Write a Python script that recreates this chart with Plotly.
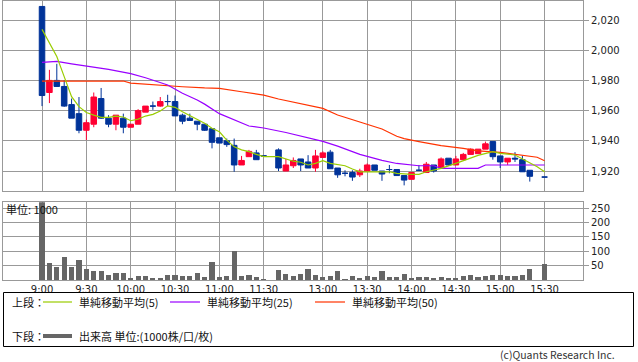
import plotly.graph_objects as go

# ---------------- data ----------------
def hm(m):
    return f"{m // 60}:{m % 60:02d}"

# category slots of the time axis (morning 9:00-11:30, lunch separator, afternoon 12:30-15:30)
axis_cats = [hm(540 + 5 * k) for k in range(31)] + ["昼"] + [hm(750 + 5 * k) for k in range(37)]
# bars actually traded (15:25 has no bar)
bar_times = [t for t in axis_cats if t not in ("昼", "15:25")]

opens = [2029, 1972, 1980, 1976, 1964, 1958, 1947, 1951, 1968, 1955,
         1951, 1955, 1949, 1951, 1959, 1963, 1963, 1966, 1966, 1957,
         1955, 1953, 1951, 1948, 1942, 1940, 1937, 1924, 1929.5, 1932,
         1930,
         1934, 1920, 1923.5, 1928, 1926, 1922, 1929, 1932.5, 1922, 1918.5,
         1919, 1917.5, 1920, 1924, 1920, 1921, 1921, 1917, 1914.5, 1920.5,
         1919, 1924, 1922, 1928.5, 1924, 1927.5, 1931, 1931.5, 1934.5, 1939.5,
         1930, 1926, 1928.5, 1927.5, 1920.5,
         1916]
highs = [2029, 1987, 1991, 1980, 1968, 1969, 1954, 1972, 1975, 1957,
         1957, 1958, 1951, 1961, 1963, 1966, 1969, 1970.5, 1970, 1958,
         1958, 1953, 1951, 1948, 1942, 1941.5, 1941.5, 1930, 1934, 1934,
         1930,
         1935, 1928, 1929, 1928, 1930.5, 1934, 1933, 1934, 1922, 1920.5,
         1920.5, 1921.5, 1925, 1924, 1920, 1924, 1921, 1917, 1919.5, 1924,
         1926, 1924, 1929, 1928.5, 1930, 1932, 1935, 1934.5, 1939.5, 1939.5,
         1930, 1928.5, 1932.5, 1930, 1920.5,
         1916]
lows = [1963, 1965, 1976, 1962.5, 1955, 1945, 1940.5, 1949, 1954.5, 1949,
        1947, 1945, 1949, 1951, 1959, 1960.5, 1962.5, 1963, 1956.5, 1951,
        1953.5, 1947, 1946.5, 1935, 1938.5, 1936, 1919.5, 1924, 1929.5, 1927.5,
        1930,
        1920, 1920, 1922, 1920, 1922, 1919.5, 1929, 1921.5, 1915.5, 1916.5,
        1913.5, 1916, 1920, 1920.5, 1913.5, 1918.5, 1917, 1910.5, 1914.5, 1920,
        1919, 1919, 1922, 1923.5, 1924, 1927.5, 1931, 1931.5, 1934.5, 1927.5,
        1922, 1924, 1926, 1919.5, 1913,
        1916]
closes = [1970, 1980, 1976, 1963, 1955, 1947, 1952, 1969, 1955, 1951,
          1957, 1949, 1951, 1960, 1963, 1963, 1966, 1966, 1956.5, 1953,
          1953.5, 1951, 1947, 1939, 1938.5, 1937.5, 1924, 1927, 1933, 1927.5,
          1930,
          1922, 1924, 1927, 1924, 1922, 1930, 1932, 1921.5, 1917.5, 1918.5,
          1916, 1920, 1924, 1920.5, 1918, 1921, 1917, 1914, 1919, 1920.5,
          1924.5, 1920, 1928, 1924, 1928, 1931, 1934.5, 1934.5, 1938, 1929.5,
          1926, 1928.5, 1928, 1919.5, 1916.5,
          1916]
volumes = [275, 59, 43, 78, 43, 70, 38, 29, 29, 15,
           24, 24, 5, 12, 12, 7, 7, 15, 17, 12,
           12, 24, 8, 63, 8, 12, 101, 12, 15, 8,
           2,
           33, 21, 12, 21, 38, 17, 8, 14, 31, 1,
           12, 5, 12, 9, 29, 8, 8, 21, 5, 8,
           10, 5, 8, 7, 5, 12, 15, 9, 12, 17,
           17, 12, 12, 17, 38,
           56]

# moving averages (slot index on the time axis, value)
ma5_slots = [0, 1, 2, 3, 4, 5, 6, 7, 8, 9, 10, 11, 12, 13, 14, 15, 16, 17, 18, 19,
             20, 21, 22, 23, 24, 25, 26, 27, 28, 29, 30, 32, 34, 35, 36, 37, 38, 39,
             41, 42, 43, 47, 48, 50, 51, 52, 54, 56, 57, 59, 61, 62, 64, 66, 67, 68]
ma5_vals = [2013.8, 2004.6, 1995.8, 1982.5, 1969.2, 1962.6, 1958.8, 1957, 1955.5, 1955.5,
            1956.4, 1955.8, 1953.3, 1954.4, 1956.4, 1957.5, 1959.7, 1963.2, 1962.2, 1959.3,
            1956.6, 1954.2, 1951.6, 1948.3, 1946, 1940.5, 1936, 1934, 1932.8, 1931,
            1929.5, 1929.5, 1926.5, 1925.8, 1924, 1925.1, 1926.8, 1925.1,
            1923.5, 1921.3, 1919.5, 1919.5, 1918.5, 1917.8, 1917.8, 1919.5, 1921.8,
            1925.1, 1927, 1930.4, 1932.8, 1931.7, 1930.6, 1925.5, 1922.8, 1919.5]
ma25_slots = [0, 2, 4, 6, 9, 12, 14, 17, 19, 21, 22, 24, 27, 28, 30, 33, 38, 40,
              43, 46, 48, 51, 53, 54, 59, 60, 68]
ma25_vals = [1992, 1992.6, 1991, 1989.5, 1987.3, 1984.5, 1981.8, 1977, 1971.5, 1967,
             1964.3, 1958, 1951.6, 1949.8, 1948.5, 1945.5, 1939.6, 1936.5,
             1931, 1927, 1925, 1923.5, 1923.5, 1921.8, 1921.8, 1924, 1924]
ma50_slots = [0, 11, 12, 15, 19, 22, 24, 27, 30, 32, 35, 38, 40, 43, 46, 48, 49,
              51, 54, 57, 59, 62, 65, 67, 68]
ma50_vals = [1979.6, 1979.6, 1978.2, 1977, 1975.8, 1975, 1974.7, 1972.5, 1970.3,
             1967.7, 1964.8, 1961.5, 1957.1, 1952.6, 1947.8, 1943, 1941.5,
             1939.5, 1936.8, 1935, 1933.4, 1932.4, 1930.6, 1929.1, 1926.8]

tick_labels = ["9:00", "9:30", "10:00", "10:30", "11:00", "11:30",
               "13:00", "13:30", "14:00", "14:30", "15:00", "15:30"]
price_ticks = [1920, 1940, 1960, 1980, 2000, 2020]
vol_ticks = [50, 100, 150, 200, 250]

# ---------------- style ----------------
RED = "#ff0033"
BLUE = "#003399"
GRID = "#999999"
C_MA5 = "#99cc00"
C_MA25 = "#9900ff"
C_MA50 = "#ff3300"
VOLC = "#666666"
JP = "Noto Sans CJK JP"
NUM = "DejaVu Sans"

W, H = 638, 362
ML, MR, MT, MB = 3, 55, 1, 82
PW = W - ML - MR
PH = H - MT - MB


def px(x):
    return (x - ML) / PW


def py(y):
    return (H - MB - y) / PH


fig = go.Figure()

up = [i for i in range(len(bar_times)) if closes[i] > opens[i]]
dn = [i for i in range(len(bar_times)) if closes[i] <= opens[i]]


def sub(arr, idx):
    return [arr[i] for i in idx]


for idx, col in ((up, RED), (dn, BLUE)):
    fig.add_trace(go.Candlestick(
        x=sub(bar_times, idx), open=sub(opens, idx), high=sub(highs, idx),
        low=sub(lows, idx), close=sub(closes, idx),
        increasing=dict(line=dict(color=col, width=1), fillcolor=col),
        decreasing=dict(line=dict(color=col, width=1), fillcolor=col),
        whiskerwidth=0, xaxis="x", yaxis="y", showlegend=False, hoverinfo="skip"))

for slots, vals, col in ((ma50_slots, ma50_vals, C_MA50),
                         (ma25_slots, ma25_vals, C_MA25),
                         (ma5_slots, ma5_vals, C_MA5)):
    fig.add_trace(go.Scatter(x=[axis_cats[s] for s in slots], y=vals, mode="lines",
                             line=dict(color=col, width=1.2), xaxis="x", yaxis="y",
                             showlegend=False, hoverinfo="skip"))

fig.add_trace(go.Bar(x=bar_times, y=volumes, marker=dict(color=VOLC, line=dict(width=0)),
                     width=0.7, xaxis="x2", yaxis="y2", showlegend=False, hoverinfo="skip"))

xrange = [-5.28, 73.2]
common_x = dict(type="category", categoryorder="array", categoryarray=axis_cats,
                range=xrange, tickmode="array", tickvals=tick_labels, showgrid=True,
                gridcolor=GRID, gridwidth=1, showline=True, linecolor=GRID, linewidth=1,
                mirror=True, ticks="", zeroline=False, fixedrange=True)

fig.update_layout(
    width=W, height=H, margin=dict(l=ML, r=MR, t=MT, b=MB),
    paper_bgcolor="white", plot_bgcolor="white", boxgap=0.25, boxgroupgap=0,
    bargap=0, showlegend=False,
    xaxis=dict(**common_x, anchor="y", showticklabels=False, rangeslider=dict(visible=False)),
    xaxis2=dict(**common_x, anchor="y2", showticklabels=True,
                tickfont=dict(family=NUM, size=10, color="#222222")),
    yaxis=dict(domain=[py(190.5), 1], range=[1907.1, 2032.6], side="right",
               tickmode="array", tickvals=price_ticks, tickformat=",",
               ticks="outside", ticklen=5, tickcolor=GRID, showgrid=True, gridcolor=GRID,
               showline=True, linecolor=GRID, mirror=True, zeroline=False,
               tickfont=dict(family=NUM, size=10, color="#222222")),
    yaxis2=dict(domain=[0, py(202.3)], range=[0, 270.7], side="right",
                tickmode="array", tickvals=vol_ticks,
                ticks="outside", ticklen=5, tickcolor=GRID, showgrid=True, gridcolor=GRID,
                showline=True, linecolor=GRID, mirror=True, zeroline=False,
                tickfont=dict(family=NUM, size=10, color="#222222")),
)

ann = []
shapes = []


def text(x, y, s, size=11, anchor="left", color="#111111", family=JP):
    ann.append(dict(x=px(x), y=py(y), xref="paper", yref="paper", text=s, showarrow=False,
                    xanchor=anchor, yanchor="middle",
                    font=dict(family=family, size=size, color=color)))


def hline(x0, x1, y, color, width):
    shapes.append(dict(type="line", xref="paper", yref="paper", x0=px(x0), x1=px(x1),
                       y0=py(y), y1=py(y), line=dict(color=color, width=width)))


text(4, 209, "単位: 1000")

# legend box
shapes.append(dict(type="rect", xref="paper", yref="paper", x0=px(3.5), x1=px(633.5),
                   y0=py(292.5), y1=py(346.5), line=dict(color="#000000", width=1)))
text(10, 302, "上段：")
hline(43, 72, 302, C_MA5, 1.2)
text(77, 302, "単純移動平均(5)")
hline(170, 200, 302, C_MA25, 1.2)
text(205, 302, "単純移動平均(25)")
hline(315, 345, 302, C_MA50, 1.2)
text(350, 302, "単純移動平均(50)")
text(10, 336, "下段：")
hline(43, 72, 336, VOLC, 4)
text(77, 336, "出来高 単位:(1000株/口/枚)")
text(617, 354, "(c)Quants Research Inc.", size=10.5, anchor="right", color="#333333")

fig.update_layout(annotations=ann, shapes=shapes)

fig.write_html("out.html")
